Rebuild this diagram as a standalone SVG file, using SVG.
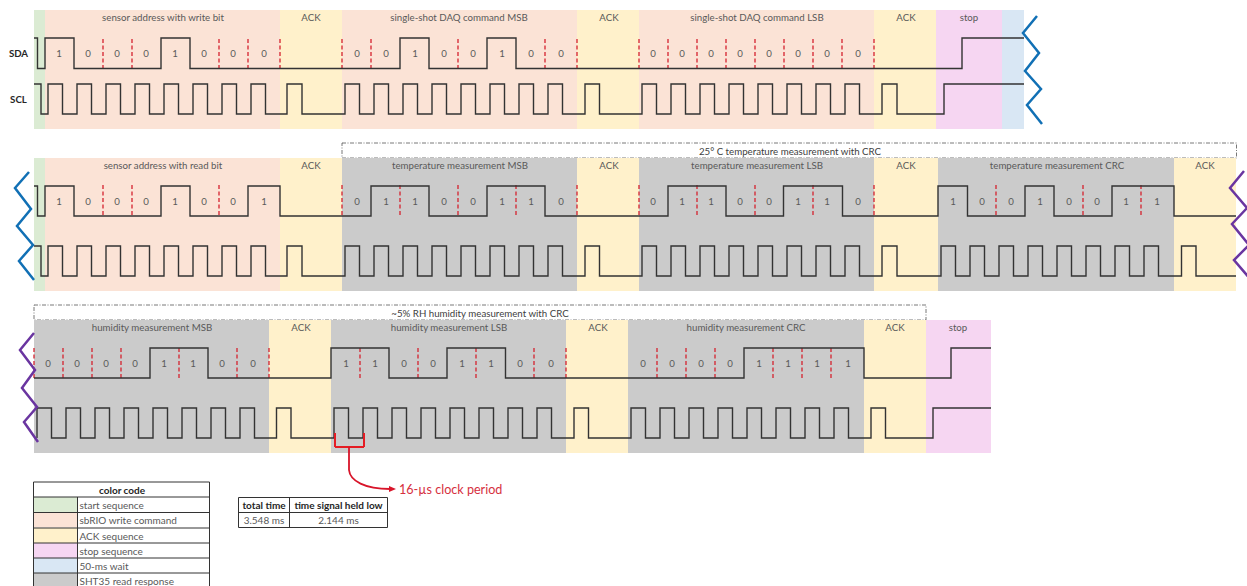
<svg xmlns="http://www.w3.org/2000/svg" width="1247" height="586" viewBox="0 0 1247 586">
<style>
text{font-family:"Lato","Carlito","Liberation Sans",sans-serif;font-size:9.7px;fill:#595959;text-anchor:middle}
.s{fill:#dbebd3}.w{fill:#fbe3d6}.a{fill:#fff1cb}.p{fill:#f6d6f2}.b{fill:#d9e7f4}.g{fill:#cbcbcb}
.wave{fill:none;stroke:#333;stroke-width:1.4}
.dash{fill:none;stroke:#d4232f;stroke-width:1.3;stroke-dasharray:4 2.5}
.box{fill:#fff;stroke:#555;stroke-width:.8;stroke-dasharray:4 1.5 1 1.5}
.zb{fill:none;stroke:#1170b5;stroke-width:2.5}
.zp{fill:none;stroke:#6a35a0;stroke-width:2.5}
.sig{font-weight:700;fill:#262626}
.tb{fill:none;stroke:#333;stroke-width:1}
.t{font-size:10px}
.h{font-weight:700;fill:#262626;font-size:10px}
.l{text-anchor:start}
</style>

<g id="row1">
<rect class="s" x="34" y="10" width="11" height="119"/>
<rect class="w" x="45" y="10" width="235" height="119"/>
<rect class="a" x="280" y="10" width="62" height="119"/>
<rect class="w" x="342" y="10" width="235" height="119"/>
<rect class="a" x="577" y="10" width="62" height="119"/>
<rect class="w" x="639" y="10" width="235" height="119"/>
<rect class="a" x="874" y="10" width="62" height="119"/>
<rect class="p" x="936" y="10" width="66" height="119"/>
<rect class="b" x="1002" y="10" width="22" height="119"/>
<text x="163" y="21">sensor address with write bit</text>
<text x="311" y="21">ACK</text>
<text x="459" y="21">single-shot DAQ command MSB</text>
<text x="609" y="21">ACK</text>
<text x="757" y="21">single-shot DAQ command LSB</text>
<text x="906" y="21">ACK</text>
<text x="969" y="21">stop</text>
<text class="sig" x="18.500" y="57">SDA</text>
<text class="sig" x="18.500" y="103">SCL</text>
<path class="dash" d="M103 39V68M132 39V68M219 39V68M248 39V68M280 39V68M342 39V68M371 39V68M458 39V68M545 39V68M577 39V68M639 39V68M668 39V68M697 39V68M726 39V68M755 39V68M784 39V68M813 39V68M842 39V68M874 39V68"/>
<path class="wave" d="M34 38H37.500V68.500H45V38H74V68.500H161V38H190V68.500H400V38H429V68.500H487V38H516V68.500H962V38H1024"/>
<path class="wave" d="M34 84H41V114H48v-30h14.500v30h14.500v-30h14.500v30h14.500v-30h14.500v30h14.500v-30h14.500v30h14.500v-30h14.500v30h14.500v-30h14.500v30h14.500v-30h14.500v30h14.500v-30h14.500v30h14.500H287v-30h15v30H345v-30h14.500v30h14.500v-30h14.500v30h14.500v-30h14.500v30h14.500v-30h14.500v30h14.500v-30h14.500v30h14.500v-30h14.500v30h14.500v-30h14.500v30h14.500v-30h14.500v30h14.500H585v-30h14.500v30H642v-30h14.500v30h14.500v-30h14.500v30h14.500v-30h14.500v30h14.500v-30h14.500v30h14.500v-30h14.500v30h14.500v-30h14.500v30h14.500v-30h14.500v30h14.500v-30h14.500v30h14.500H882v-30h15v30H944V84H1024"/>
<g>
<text x="59" y="57">1</text><text x="88" y="57">0</text><text x="117" y="57">0</text><text x="146" y="57">0</text><text x="175" y="57">1</text><text x="204" y="57">0</text><text x="233" y="57">0</text><text x="264" y="57">0</text>
<text x="357" y="57">0</text><text x="386" y="57">0</text><text x="415" y="57">1</text><text x="444" y="57">0</text><text x="473" y="57">0</text><text x="502" y="57">1</text><text x="531" y="57">0</text><text x="561" y="57">0</text>
<text x="653" y="57">0</text><text x="682" y="57">0</text><text x="711" y="57">0</text><text x="740" y="57">0</text><text x="769" y="57">0</text><text x="798" y="57">0</text><text x="827" y="57">0</text><text x="858" y="57">0</text>
</g>
<path class="zb" d="M1037 16L1023 33L1039 53L1025 71L1041 89L1027 105L1042 124"/>
</g>

<g id="row2">
<rect class="box" x="342" y="143" width="894.500" height="15"/>
<text x="790" y="155" style="fill:#404040">25° C temperature measurement with CRC</text>
<rect class="s" x="34" y="158" width="11" height="133"/>
<rect class="w" x="45" y="158" width="235" height="133"/>
<rect class="a" x="280" y="158" width="62" height="133"/>
<rect class="g" x="342" y="158" width="235" height="133"/>
<rect class="a" x="577" y="158" width="62" height="133"/>
<rect class="g" x="639" y="158" width="235" height="133"/>
<rect class="a" x="874" y="158" width="64" height="133"/>
<rect class="g" x="938" y="158" width="236" height="133"/>
<rect class="a" x="1174" y="158" width="62" height="133"/>
<text x="163" y="169">sensor address with read bit</text>
<text x="311" y="169">ACK</text>
<text x="460" y="169">temperature measurement MSB</text>
<text x="609" y="169">ACK</text>
<text x="757" y="169">temperature measurement LSB</text>
<text x="906" y="169">ACK</text>
<text x="1057" y="169">temperature measurement CRC</text>
<text x="1205" y="169">ACK</text>
<path class="dash" d="M103 185V216M132 185V216M219 185V216M342 185V216M400 185V216M458 185V216M516 185V216M577 185V216M639 185V216M697 185V216M755 185V216M813 185V216M874 185V216M996 185V216M1083 185V216M1141 185V216"/>
<path class="wave" d="M34 186H37.500V216H45V186H74V216H161V186H190V216H248V186H280V216H371V186H429V216H487V186H545V216H668V186H726V216H783.500V186H842.500V216H938V186H967.500V216H1025V186H1054V216H1112V186H1174V216H1236"/>
<path class="wave" d="M34 246H41V276H48v-30h14.500v30h14.500v-30h14.500v30h14.500v-30h14.500v30h14.500v-30h14.500v30h14.500v-30h14.500v30h14.500v-30h14.500v30h14.500v-30h14.500v30h14.500v-30h14.500v30h14.500H287v-30h15v30H345v-30h14.500v30h14.500v-30h14.500v30h14.500v-30h14.500v30h14.500v-30h14.500v30h14.500v-30h14.500v30h14.500v-30h14.500v30h14.500v-30h14.500v30h14.500v-30h14.500v30h14.500H585v-30h14.500v30H642v-30h14.500v30h14.500v-30h14.500v30h14.500v-30h14.500v30h14.500v-30h14.500v30h14.500v-30h14.500v30h14.500v-30h14.500v30h14.500v-30h14.500v30h14.500v-30h14.500v30h14.500H882v-30h15v30H941v-30h14.500v30h14.500v-30h14.500v30h14.500v-30h14.500v30h14.500v-30h14.500v30h14.500v-30h14.500v30h14.500v-30h14.500v30h14.500v-30h14.500v30h14.500v-30h14.500v30h14.500H1181.500v-30h14.500v30H1236"/>
<g>
<text x="59" y="205">1</text><text x="88" y="205">0</text><text x="117" y="205">0</text><text x="146" y="205">0</text><text x="175" y="205">1</text><text x="204" y="205">0</text><text x="233" y="205">0</text><text x="264" y="205">1</text>
<text x="357" y="205">0</text><text x="386" y="205">1</text><text x="415" y="205">1</text><text x="444" y="205">0</text><text x="473" y="205">0</text><text x="502" y="205">1</text><text x="531" y="205">1</text><text x="561" y="205">0</text>
<text x="653" y="205">0</text><text x="682" y="205">1</text><text x="711" y="205">1</text><text x="740" y="205">0</text><text x="769" y="205">0</text><text x="798" y="205">1</text><text x="827" y="205">1</text><text x="858" y="205">0</text>
<text x="953" y="205">1</text><text x="982" y="205">0</text><text x="1011" y="205">0</text><text x="1040" y="205">1</text><text x="1069" y="205">0</text><text x="1097" y="205">0</text><text x="1126" y="205">1</text><text x="1157" y="205">1</text>
</g>
<path class="zb" d="M29 172L15 188L31 209L17 226L33 245L19 261L34 280"/>
<path class="zp" d="M1244 171L1230 188L1247 208L1232 224L1249 245L1234 260L1251 280"/>
</g>

<g id="row3">
<rect class="box" x="34" y="305" width="892" height="15"/>
<text x="480" y="317" style="fill:#404040">~5% RH humidity measurement with CRC</text>
<rect class="g" x="34" y="320" width="235" height="133"/>
<rect class="a" x="269" y="320" width="62" height="133"/>
<rect class="g" x="331" y="320" width="235" height="133"/>
<rect class="a" x="566" y="320" width="62" height="133"/>
<rect class="g" x="628" y="320" width="236" height="133"/>
<rect class="a" x="864" y="320" width="62" height="133"/>
<rect class="p" x="926" y="320" width="65" height="133"/>
<text x="152" y="331">humidity measurement MSB</text>
<text x="301" y="331">ACK</text>
<text x="449" y="331">humidity measurement LSB</text>
<text x="598" y="331">ACK</text>
<text x="746" y="331">humidity measurement CRC</text>
<text x="895" y="331">ACK</text>
<text x="958" y="331">stop</text>
<path class="dash" d="M34 348V378M63 348V378M92 348V378M121 348V378M179 348V378M237 348V378M269 348V378M360 348V378M418 348V378M476 348V378M534 348V378M566 348V378M657 348V378M686 348V378M715 348V378M773 348V378M802 348V378M831 348V378"/>
<path class="wave" d="M34 378H150V348H208V378H331V348H389V378H447V348H505.500V378H744V348H864V378H951V348H991"/>
<path class="wave" d="M37 438v-30h14.500v30h14.500v-30h14.500v30h14.500v-30h14.500v30h14.500v-30h14.500v30h14.500v-30h14.500v30h14.500v-30h14.500v30h14.500v-30h14.500v30h14.500v-30h14.500v30h14.500H276.500v-30h14.500v30H334v-30h14.500v30h14.500v-30h14.500v30h14.500v-30h14.500v30h14.500v-30h14.500v30h14.500v-30h14.500v30h14.500v-30h14.500v30h14.500v-30h14.500v30h14.500v-30h14.500v30h14.500H574v-30h14.500v30H631v-30h14.500v30h14.500v-30h14.500v30h14.500v-30h14.500v30h14.500v-30h14.500v30h14.500v-30h14.500v30h14.500v-30h14.500v30h14.500v-30h14.500v30h14.500v-30h14.500v30h14.500H871v-30h14.500v30H933V408H991"/>
<g>
<text x="48" y="367">0</text><text x="77" y="367">0</text><text x="106" y="367">0</text><text x="135" y="367">0</text><text x="164" y="367">1</text><text x="193" y="367">1</text><text x="222" y="367">0</text><text x="253" y="367">0</text>
<text x="346" y="367">1</text><text x="375" y="367">1</text><text x="404" y="367">0</text><text x="433" y="367">0</text><text x="462" y="367">1</text><text x="491" y="367">1</text><text x="520" y="367">0</text><text x="551" y="367">0</text>
<text x="643" y="367">0</text><text x="672" y="367">0</text><text x="701" y="367">0</text><text x="730" y="367">0</text><text x="759" y="367">1</text><text x="788" y="367">1</text><text x="817" y="367">1</text><text x="848" y="367">1</text>
</g>
<path class="zp" d="M34 333L20 350L35 370L22 388L37 407L24 422L38 442"/>
</g>

<g id="clock-period-callout">
<path d="M335 433V447M364 433V447M335 447H364" fill="none" stroke="#e51c23" stroke-width="2"/>
<path d="M349 447V470C350 481 365 489 390 489" fill="none" stroke="#d8152a" stroke-width="1.800"/>
<path d="M389 486L396 489L389 492Z" fill="#d8152a"/>
<text class="l" x="399" y="494" style="font-size:12.6px;fill:#d6303e">16-µs clock period</text>
</g>

<g id="color-code-table">
<rect class="s" x="34" y="497" width="43" height="15"/>
<rect class="w" x="34" y="512.500" width="43" height="15"/>
<rect class="a" x="34" y="528" width="43" height="15"/>
<rect class="p" x="34" y="543" width="43" height="15"/>
<rect class="b" x="34" y="558" width="43" height="15"/>
<rect class="g" x="34" y="573" width="43" height="15"/>
<path class="tb" d="M33.500 482H209.500M33.500 497H209.500M33.500 512.500H209.500M33.500 528H209.500M33.500 543H209.500M33.500 558H209.500M33.500 573H209.500M33.500 588H209.500M33.500 482V590M209.500 482V590M77.500 497V590"/>
<text class="h" x="122" y="494">color code</text>
<text class="l t" x="79.500" y="509">start sequence</text>
<text class="l t" x="79.500" y="524">sbRIO write command</text>
<text class="l t" x="79.500" y="540">ACK sequence</text>
<text class="l t" x="79.500" y="555">stop sequence</text>
<text class="l t" x="79.500" y="570">50-ms wait</text>
<text class="l t" x="79.500" y="585">SHT35 read response</text>
</g>

<g id="timing-table">
<path class="tb" d="M238.500 497.500H387.500M238.500 512.500H387.500M238.500 527.500H387.500M238.500 497.500V527.500M387.500 497.500V527.500M289.500 497.500V527.500"/>
<text class="h" x="264" y="509">total time</text>
<text class="h" x="338.500" y="509">time signal held low</text>
<text class="t" x="264" y="524">3.548 ms</text>
<text class="t" x="338.500" y="524">2.144 ms</text>
</g>
</svg>
